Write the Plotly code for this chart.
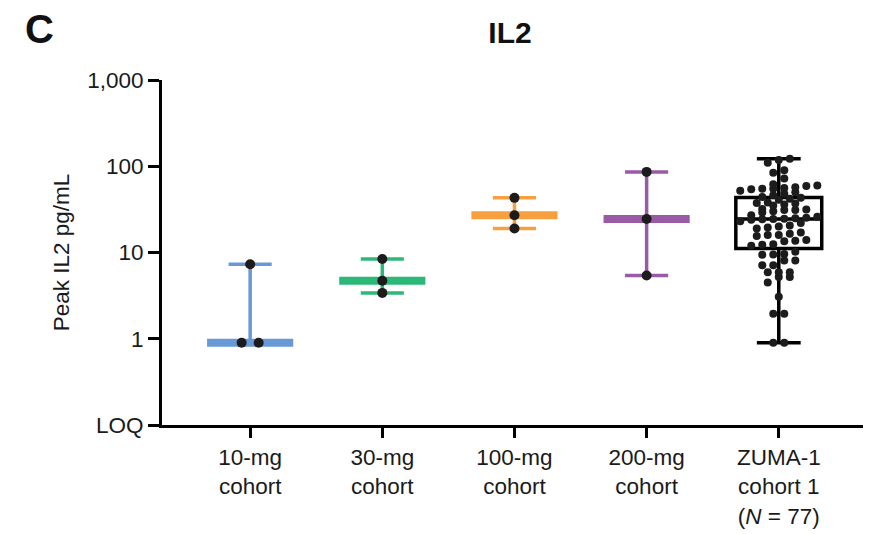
import numpy as np
import plotly.graph_objects as go

# ---------------- data ----------------
categories = ["10-mg<br>cohort", "30-mg<br>cohort", "100-mg<br>cohort",
              "200-mg<br>cohort", "ZUMA-1<br>cohort 1<br>(<i>N</i> = 77)"]
cohort_10mg = [0.9, 0.9, 7.3]
cohort_30mg = [3.4, 4.7, 8.4]
cohort_100mg = [19.0, 27.0, 43.0]
cohort_200mg = [5.4, 24.5, 86.0]
zuma1_cohort1 = [
    0.9, 0.9, 1.95, 1.95, 3.06, 4.5, 5.2, 5.2, 5.9, 5.9, 5.9, 7.1, 7.1, 8.1, 8.1,
    9.4, 9.5, 9.6, 10.2,
    12.0, 12.3, 12.5, 13.5, 13.7, 14.0, 15.5, 16.0, 16.0, 16.5, 17.0, 19.0, 19.5,
    20.0, 20.5, 22.0, 23.0, 24.0, 24.3,
    24.5,
    24.7, 25.0, 25.3, 26.0, 27.0, 29.0, 30.0, 31.0, 31.0, 31.5, 32.0, 35.0, 36.0,
    37.0, 37.5, 38.0, 41.0, 42.0, 43.0,
    44.0, 46.0, 48.0, 50.0, 52.0, 54.0, 55.0, 55.0, 56.0, 57.0, 59.0, 60.0, 62.0,
    72.0, 84.0, 90.0, 110.0, 118.0, 122.0,
]
cohort_colors = ["#6699d5", "#2bb878", "#f7a040", "#9a5ba6"]
ytick_vals = [0.1, 1, 10, 100, 1000]
ytick_text = ["LOQ", "1", "10", "100", "1,000"]

# ---------------- helpers ----------------
PX_PER_DEC = 87.5
PX_PER_CAT = 132.0


def swarm_offsets(vals, bin_px, step_px):
    """Simple Prism-like scatter-dot offsets (category units)."""
    vals = np.asarray(vals, dtype=float)
    ys = np.log10(vals) * PX_PER_DEC
    order = np.argsort(ys, kind="stable")
    offsets = np.zeros(len(vals))
    groups, cur, start = [], [], None
    for i in order:
        if cur and ys[i] - start > bin_px:
            groups.append(cur)
            cur = []
        if not cur:
            start = ys[i]
        cur.append(i)
    if cur:
        groups.append(cur)
    for g in groups:
        n = len(g)
        for k, i in enumerate(g):
            offsets[i] = (k - (n - 1) / 2) * step_px / PX_PER_CAT
    return offsets


fig = go.Figure()

# ZUMA-1 box (min to max whiskers)
z = np.asarray(zuma1_cohort1)
q1, med, q3 = np.percentile(z, [25, 50, 75], method="weibull")
fig.add_trace(go.Box(
    x=[4], q1=[q1], median=[med], q3=[q3],
    lowerfence=[z.min()], upperfence=[z.max()],
    width=0.65, whiskerwidth=0.51,
    line=dict(color="black", width=3.5),
    fillcolor="rgba(0,0,0,0)", boxpoints=False, showlegend=False,
    hoverinfo="skip",
))

# colored cohorts: median with range
cohorts = [cohort_10mg, cohort_30mg, cohort_100mg, cohort_200mg]
for i, (vals, col) in enumerate(zip(cohorts, cohort_colors)):
    v = np.asarray(vals)
    lo, md, hi = v.min(), np.median(v), v.max()
    cap = 0.163
    fig.add_trace(go.Scatter(
        x=[i, i, None, i - cap, i + cap, None, i - cap, i + cap],
        y=[lo, hi, None, lo, lo, None, hi, hi],
        mode="lines", line=dict(color=col, width=3.5),
        showlegend=False, hoverinfo="skip", connectgaps=False,
    ))
    fig.add_trace(go.Scatter(
        x=[i - 0.326, i + 0.326], y=[md, md],
        mode="lines", line=dict(color=col, width=8),
        showlegend=False, hoverinfo="skip",
    ))

# dots
for i, vals in enumerate(cohorts):
    off = swarm_offsets(vals, 4, 17)
    fig.add_trace(go.Scatter(
        x=i + off, y=vals, mode="markers",
        marker=dict(color="#1c1c1c", size=10),
        showlegend=False, hoverinfo="skip",
    ))
offz = swarm_offsets(zuma1_cohort1, 6, 11.0)
fig.add_trace(go.Scatter(
    x=4 + offz, y=zuma1_cohort1, mode="markers",
    marker=dict(color="#1c1c1c", size=8),
    showlegend=False, hoverinfo="skip",
))

# the page body adds an 8 px margin, so the figure is sized to fit after it
FONT = "Liberation Sans, Arial, Helvetica, sans-serif"
W, H, OFF = 863, 526, 8
fig.update_layout(
    width=W, height=H,
    margin=dict(l=154, r=5, t=72, b=104),
    paper_bgcolor="white", plot_bgcolor="white",
    font=dict(family=FONT, size=22.5, color="#1a1a1a"),
    title=dict(text="<b>IL2</b>", x=(510 - OFF) / W, xanchor="center",
               y=1 - (32 - OFF) / H, yanchor="middle",
               font=dict(size=30, color="#111")),
    xaxis=dict(
        range=[-0.667, 4.66], tickmode="array", tickvals=list(range(5)),
        ticktext=categories, ticks="outside", ticklen=10, tickwidth=2.5,
        tickcolor="black", showline=True, linewidth=3, linecolor="black",
        showgrid=False, zeroline=False, tickfont=dict(size=22.5),
    ),
    yaxis=dict(
        type="log", range=[-1, 3], tickmode="array", tickvals=ytick_vals,
        ticktext=ytick_text, ticks="outside", ticklen=11, tickwidth=2.5,
        tickcolor="black", showline=True, linewidth=3, linecolor="black",
        showgrid=False, zeroline=False, tickfont=dict(size=22.5),
        title=dict(text="Peak IL2 pg/mL", font=dict(size=22.5), standoff=12),
    ),
    annotations=[dict(
        text="<b>C</b>", xref="paper", yref="paper",
        x=(40 - 162) / 704, y=(430 - 28) / 350, xanchor="center", yanchor="middle",
        showarrow=False, font=dict(size=40, color="#111"),
    )],
)

fig.write_html("out.html")
